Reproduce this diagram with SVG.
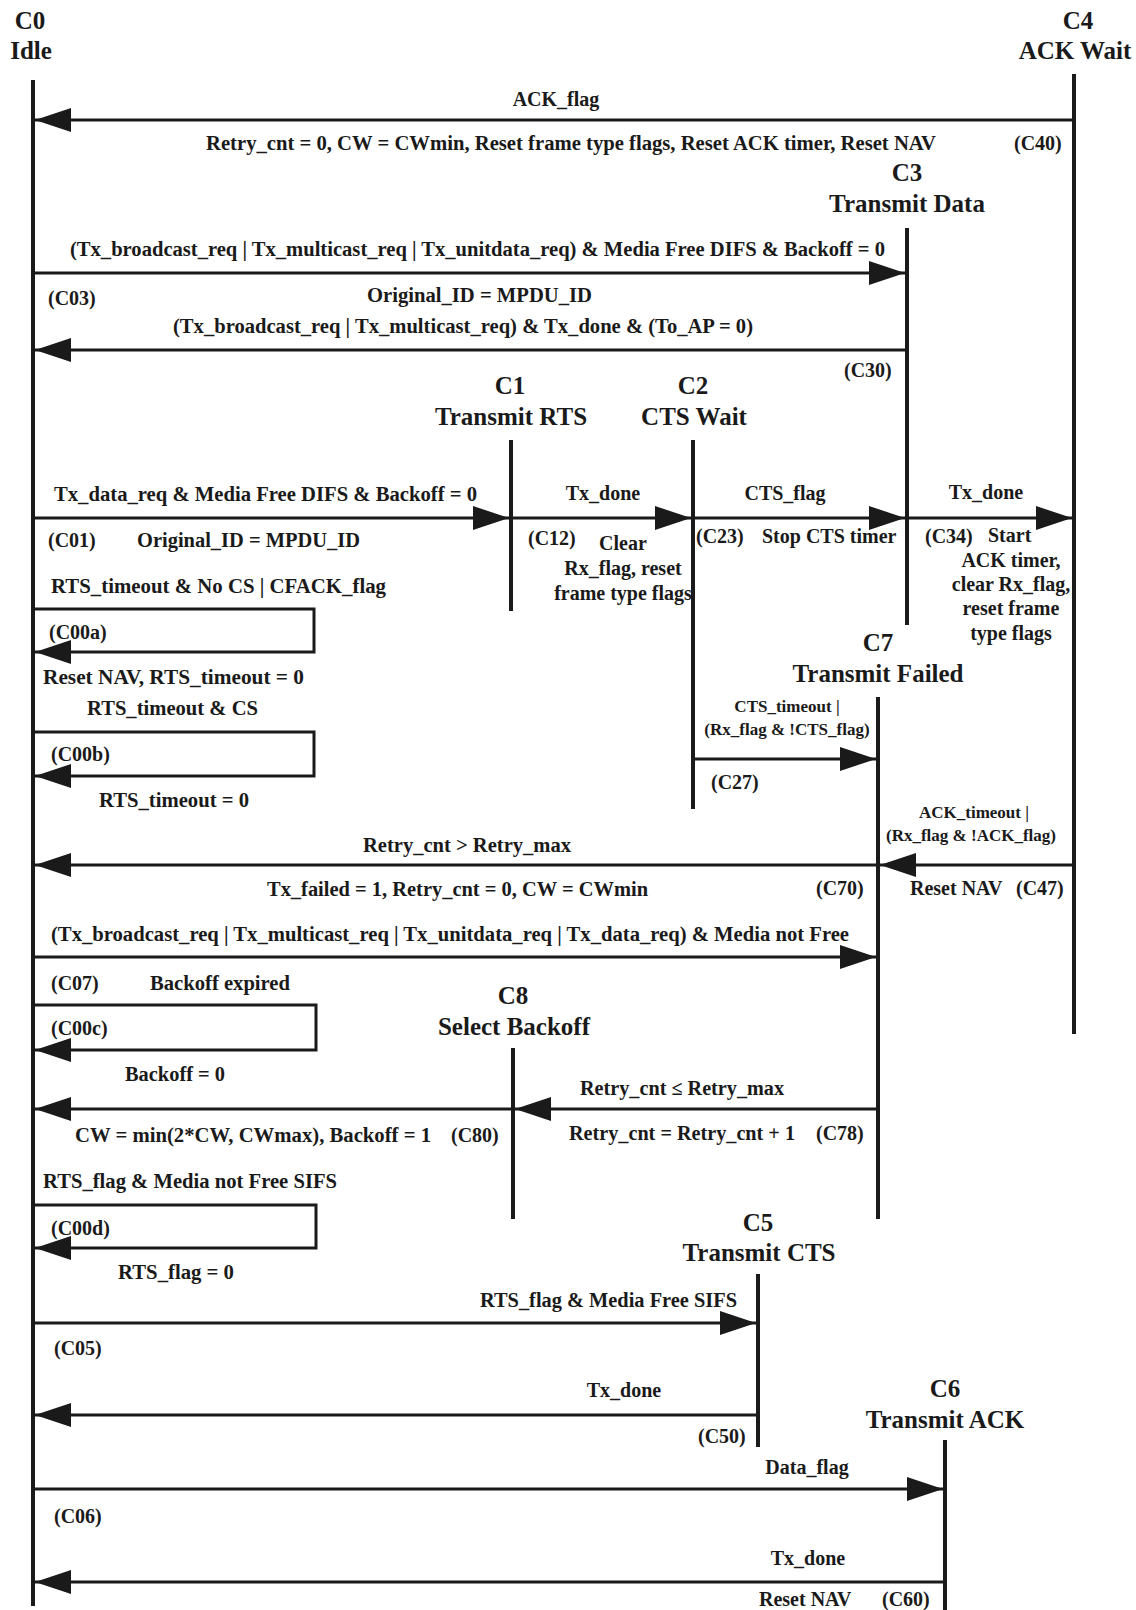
<svg xmlns="http://www.w3.org/2000/svg" width="1136" height="1610" viewBox="0 0 1136 1610">
<defs>
<marker id="ah" markerUnits="userSpaceOnUse" markerWidth="38" markerHeight="26" refX="36" refY="12" orient="auto">
<path d="M0,0 L36,12 L0,24 Z" fill="#1a1a1a"/>
</marker>
<style>
.life{stroke:#1a1a1a;stroke-width:4;fill:none}
.conn{stroke:#1a1a1a;stroke-width:3;fill:none;marker-end:url(#ah)}
text{font-family:"Liberation Serif","Times New Roman",serif;font-weight:bold;fill:#1a1a1a}
.hd{font-size:25px;text-anchor:middle}
.lb{font-size:20px}
.sm{font-size:17px}
.mid{text-anchor:middle}
</style>
</defs>
<rect width="1136" height="1610" fill="#ffffff"/>

<g id="C0">
<line class="life" x1="33" y1="80" x2="33" y2="1606"/>
<text class="hd" x="30" y="29">C0</text>
<text class="hd" x="31" y="59">Idle</text>
</g>
<g id="C4">
<line class="life" x1="1074" y1="74" x2="1074" y2="1034"/>
<text class="hd" x="1078" y="29">C4</text>
<text class="hd" x="1075" y="59">ACK Wait</text>
</g>
<g id="C3">
<line class="life" x1="907" y1="228" x2="907" y2="625"/>
<text class="hd" x="907" y="181">C3</text>
<text class="hd" x="907" y="212">Transmit Data</text>
</g>
<g id="C1">
<line class="life" x1="511" y1="440" x2="511" y2="611"/>
<text class="hd" x="510" y="394">C1</text>
<text class="hd" x="511" y="425">Transmit RTS</text>
</g>
<g id="C2">
<line class="life" x1="693" y1="440" x2="693" y2="809"/>
<text class="hd" x="693" y="394">C2</text>
<text class="hd" x="694" y="425">CTS Wait</text>
</g>
<g id="C7">
<line class="life" x1="878" y1="697" x2="878" y2="1219"/>
<text class="hd" x="878" y="651">C7</text>
<text class="hd" x="878" y="682">Transmit Failed</text>
</g>
<g id="C8">
<line class="life" x1="513" y1="1048" x2="513" y2="1219"/>
<text class="hd" x="513" y="1004">C8</text>
<text class="hd" x="514" y="1035">Select Backoff</text>
</g>
<g id="C5">
<line class="life" x1="758" y1="1274" x2="758" y2="1447"/>
<text class="hd" x="758" y="1231">C5</text>
<text class="hd" x="759" y="1261">Transmit CTS</text>
</g>
<g id="C6">
<line class="life" x1="945" y1="1440" x2="945" y2="1610"/>
<text class="hd" x="945" y="1397">C6</text>
<text class="hd" x="945" y="1428">Transmit ACK</text>
</g>

<g id="connectors">
<g id="C40">
<path class="conn" d="M1074,120 H35"/>
<text class="lb mid" x="556" y="106">ACK_flag</text>
<text class="lb" x="206" y="150" textLength="730" lengthAdjust="spacingAndGlyphs">Retry_cnt = 0, CW = CWmin, Reset frame type flags, Reset ACK timer, Reset NAV</text>
<text class="lb" x="1014" y="150">(C40)</text>
</g>
<g id="C03">
<path class="conn" d="M33,273 H905"/>
<text class="lb" x="70" y="256" textLength="815" lengthAdjust="spacingAndGlyphs">(Tx_broadcast_req | Tx_multicast_req | Tx_unitdata_req) &amp; Media Free DIFS &amp; Backoff = 0</text>
<text class="lb" x="48" y="305">(C03)</text>
<text class="lb" x="367" y="302" textLength="225" lengthAdjust="spacingAndGlyphs">Original_ID = MPDU_ID</text>
</g>
<g id="C30">
<path class="conn" d="M907,350 H35"/>
<text class="lb" x="173" y="333" textLength="580" lengthAdjust="spacingAndGlyphs">(Tx_broadcast_req | Tx_multicast_req) &amp; Tx_done &amp; (To_AP = 0)</text>
<text class="lb" x="844" y="377">(C30)</text>
</g>
<g id="C01">
<path class="conn" d="M33,518 H509"/>
<text class="lb" x="54" y="501" textLength="423" lengthAdjust="spacingAndGlyphs">Tx_data_req &amp; Media Free DIFS &amp; Backoff = 0</text>
<text class="lb" x="48" y="547">(C01)</text>
<text class="lb" x="137" y="547" textLength="223" lengthAdjust="spacingAndGlyphs">Original_ID = MPDU_ID</text>
</g>
<g id="C12">
<path class="conn" d="M511,518 H691"/>
<text class="lb mid" x="603" y="500">Tx_done</text>
<text class="lb" x="528" y="545">(C12)</text>
<text class="lb mid" x="623" y="550">Clear</text>
<text class="lb mid" x="623" y="575">Rx_flag, reset</text>
<text class="lb mid" x="623" y="600">frame type flags</text>
</g>
<g id="C23">
<path class="conn" d="M693,518 H905"/>
<text class="lb mid" x="785" y="500">CTS_flag</text>
<text class="lb" x="696" y="543">(C23)</text>
<text class="lb" x="762" y="543">Stop CTS timer</text>
</g>
<g id="C34">
<path class="conn" d="M907,518 H1072"/>
<text class="lb mid" x="986" y="499">Tx_done</text>
<text class="lb" x="925" y="543">(C34)</text>
<text class="lb" x="988" y="542">Start</text>
<text class="lb mid" x="1011" y="567">ACK timer,</text>
<text class="lb mid" x="1011" y="591">clear Rx_flag,</text>
<text class="lb mid" x="1011" y="615">reset frame</text>
<text class="lb mid" x="1011" y="640">type flags</text>
</g>
<g id="C00a">
<path class="conn" d="M33,609 H314 V652 H35"/>
<text class="lb" x="51" y="593" textLength="335" lengthAdjust="spacingAndGlyphs">RTS_timeout &amp; No CS | CFACK_flag</text>
<text class="lb" x="49" y="639">(C00a)</text>
<text class="lb" x="43" y="684" textLength="261" lengthAdjust="spacingAndGlyphs">Reset NAV, RTS_timeout = 0</text>
</g>
<g id="C00b">
<path class="conn" d="M33,732 H314 V776 H35"/>
<text class="lb" x="87" y="715" textLength="171" lengthAdjust="spacingAndGlyphs">RTS_timeout &amp; CS</text>
<text class="lb" x="51" y="761">(C00b)</text>
<text class="lb" x="99" y="807" textLength="150" lengthAdjust="spacingAndGlyphs">RTS_timeout = 0</text>
</g>
<g id="C27">
<path class="conn" d="M693,759 H876"/>
<text class="sm mid" x="787" y="712">CTS_timeout |</text>
<text class="sm mid" x="787" y="735">(Rx_flag &amp; !CTS_flag)</text>
<text class="lb" x="711" y="789">(C27)</text>
</g>
<g id="C47">
<path class="conn" d="M1074,865 H880"/>
<text class="sm mid" x="974" y="818">ACK_timeout |</text>
<text class="sm mid" x="971" y="841">(Rx_flag &amp; !ACK_flag)</text>
<text class="lb" x="910" y="895">Reset NAV</text>
<text class="lb" x="1016" y="895">(C47)</text>
</g>
<g id="C70">
<path class="conn" d="M878,865 H35"/>
<text class="lb" x="363" y="852" textLength="208" lengthAdjust="spacingAndGlyphs">Retry_cnt &gt; Retry_max</text>
<text class="lb" x="267" y="896" textLength="381" lengthAdjust="spacingAndGlyphs">Tx_failed = 1, Retry_cnt = 0, CW = CWmin</text>
<text class="lb" x="816" y="895">(C70)</text>
</g>
<g id="C07">
<path class="conn" d="M33,957 H876"/>
<text class="lb" x="51" y="941" textLength="798" lengthAdjust="spacingAndGlyphs">(Tx_broadcast_req | Tx_multicast_req | Tx_unitdata_req | Tx_data_req) &amp; Media not Free</text>
<text class="lb" x="51" y="990">(C07)</text>
<text class="lb" x="150" y="990" textLength="140" lengthAdjust="spacingAndGlyphs">Backoff expired</text>
</g>
<g id="C00c">
<path class="conn" d="M33,1005 H316 V1050 H35"/>
<text class="lb" x="51" y="1035">(C00c)</text>
<text class="lb" x="125" y="1081" textLength="100" lengthAdjust="spacingAndGlyphs">Backoff = 0</text>
</g>
<g id="C78">
<path class="conn" d="M878,1109 H515"/>
<text class="lb" x="580" y="1095" textLength="204" lengthAdjust="spacingAndGlyphs">Retry_cnt ≤ Retry_max</text>
<text class="lb" x="569" y="1140" textLength="226" lengthAdjust="spacingAndGlyphs">Retry_cnt = Retry_cnt + 1</text>
<text class="lb" x="816" y="1140">(C78)</text>
</g>
<g id="C80">
<path class="conn" d="M513,1109 H35"/>
<text class="lb" x="75" y="1142" textLength="356" lengthAdjust="spacingAndGlyphs">CW = min(2*CW, CWmax), Backoff = 1</text>
<text class="lb" x="451" y="1142">(C80)</text>
</g>
<g id="C00d">
<path class="conn" d="M33,1205 H316 V1248 H35"/>
<text class="lb" x="43" y="1188" textLength="294" lengthAdjust="spacingAndGlyphs">RTS_flag &amp; Media not Free SIFS</text>
<text class="lb" x="51" y="1235">(C00d)</text>
<text class="lb" x="118" y="1279" textLength="116" lengthAdjust="spacingAndGlyphs">RTS_flag = 0</text>
</g>
<g id="C05">
<path class="conn" d="M33,1323 H756"/>
<text class="lb" x="480" y="1307" textLength="257" lengthAdjust="spacingAndGlyphs">RTS_flag &amp; Media Free SIFS</text>
<text class="lb" x="54" y="1355">(C05)</text>
</g>
<g id="C50">
<path class="conn" d="M758,1415 H35"/>
<text class="lb mid" x="624" y="1397">Tx_done</text>
<text class="lb" x="698" y="1443">(C50)</text>
</g>
<g id="C06">
<path class="conn" d="M33,1489 H943"/>
<text class="lb mid" x="807" y="1474">Data_flag</text>
<text class="lb" x="54" y="1523">(C06)</text>
</g>
<g id="C60">
<path class="conn" d="M945,1582 H35"/>
<text class="lb mid" x="808" y="1565">Tx_done</text>
<text class="lb" x="759" y="1606">Reset NAV</text>
<text class="lb" x="882" y="1606">(C60)</text>
</g>
</g>
</svg>
